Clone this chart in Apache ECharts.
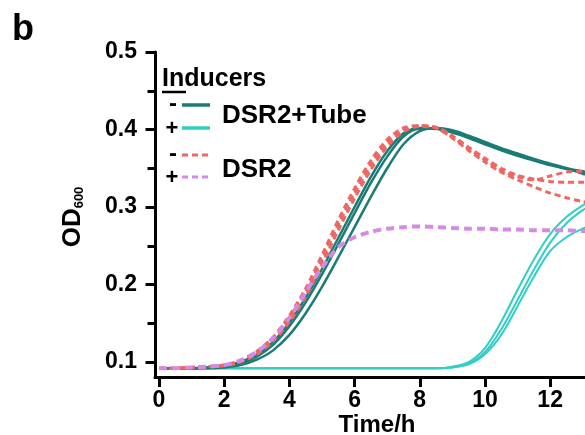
<!DOCTYPE html>
<html>
<head>
<meta charset="utf-8">
<script src="https://cdn.jsdelivr.net/npm/echarts@6/dist/echarts.min.js"></script>
<style>
html,body{margin:0;padding:0;background:#fff;}
#c{width:585px;height:435px;}
</style>
</head>
<body>
<div id="c"></div>
<script>
// Time points (hours)
var time = [0,0.5,1,1.5,2,2.5,3,3.5,4,4.5,5,5.5,6,6.5,7,7.5,8,8.5,9,9.5,10,10.5,11,11.5,12,12.5,13,13.5,14];

// DSR2+Tube, no inducer (dark teal, solid)
var tubeMinus1 = [0.092,0.092,0.092,0.093,0.095,0.100,0.110,0.126,0.151,0.183,0.220,0.260,0.300,0.339,0.372,0.395,0.402,0.401,0.396,0.389,0.381,0.373,0.366,0.360,0.354,0.349,0.345,0.342,0.339];
var tubeMinus2 = [0.092,0.092,0.092,0.093,0.094,0.098,0.107,0.122,0.146,0.177,0.213,0.252,0.292,0.331,0.365,0.391,0.401,0.401,0.397,0.390,0.382,0.374,0.367,0.361,0.355,0.350,0.346,0.343,0.340];
var tubeMinus3 = [0.092,0.092,0.092,0.092,0.093,0.096,0.103,0.115,0.135,0.163,0.197,0.235,0.274,0.313,0.350,0.381,0.398,0.402,0.399,0.392,0.384,0.376,0.369,0.362,0.356,0.350,0.343,0.338,0.336];

// DSR2+Tube, with inducer (cyan, solid)
var tubePlus1 = [0.092,0.092,0.092,0.092,0.092,0.092,0.092,0.092,0.092,0.092,0.092,0.092,0.092,0.092,0.092,0.092,0.092,0.092,0.094,0.100,0.118,0.152,0.193,0.232,0.265,0.287,0.302,0.314,0.322];
var tubePlus2 = [0.092,0.092,0.092,0.092,0.092,0.092,0.092,0.092,0.092,0.092,0.092,0.092,0.092,0.092,0.092,0.092,0.092,0.092,0.093,0.098,0.113,0.142,0.180,0.219,0.254,0.279,0.296,0.308,0.316];
var tubePlus3 = [0.092,0.092,0.092,0.092,0.092,0.092,0.092,0.092,0.092,0.092,0.092,0.092,0.092,0.092,0.092,0.092,0.092,0.092,0.093,0.097,0.110,0.135,0.172,0.210,0.243,0.261,0.272,0.280,0.286];

// DSR2, no inducer (red, dashed)
var dsrMinus1 = [0.092,0.092,0.093,0.094,0.096,0.102,0.114,0.132,0.160,0.195,0.238,0.283,0.324,0.360,0.387,0.402,0.405,0.402,0.390,0.375,0.361,0.347,0.339,0.335,0.340,0.345,0.346,0.346,0.346];
var dsrMinus2 = [0.092,0.092,0.093,0.094,0.096,0.101,0.112,0.130,0.156,0.190,0.232,0.277,0.318,0.354,0.383,0.400,0.405,0.403,0.392,0.377,0.363,0.350,0.341,0.336,0.333,0.332,0.332,0.333,0.333];
var dsrMinus3 = [0.092,0.092,0.093,0.094,0.095,0.100,0.110,0.127,0.152,0.185,0.226,0.270,0.311,0.348,0.378,0.397,0.404,0.402,0.389,0.373,0.358,0.345,0.335,0.326,0.318,0.312,0.307,0.303,0.300];

// DSR2, with inducer (violet, dashed)
var dsrPlus = [0.092,0.092,0.093,0.094,0.096,0.102,0.113,0.131,0.157,0.190,0.222,0.248,0.261,0.268,0.272,0.274,0.275,0.274,0.273,0.272,0.272,0.271,0.271,0.270,0.270,0.270,0.269,0.269,0.269];

// Axis ticks
var xTicks = [0,2,4,6,8,10,12];
var yTicks = [0.1,0.2,0.3,0.4,0.5];
var yMinorTicks = [0.15,0.25,0.35,0.45];

var FONT = 'Liberation Sans, Arial, Helvetica, sans-serif';
var TEAL = '#1a7c75', CYAN = '#30cfc6', RED = '#ee6763', VIOLET = '#d48ae6';

function pairs(arr){ return time.map(function(t,i){ return [t, arr[i]]; }); }

function line(name, arr, color, width, dash, z){
  return {
    name: name, type: 'line', data: pairs(arr), showSymbol: false, symbol: 'none',
    smooth: 0.3, clip: true, z: z,
    lineStyle: { color: color, width: width, type: dash || 'solid', cap: 'butt' },
    emphasis: { disabled: true }, silent: true
  };
}

var chart = echarts.init(document.getElementById('c'), null, { renderer: 'canvas' });

chart.setOption({
  animation: false,
  backgroundColor: '#fff',
  grid: { left: 155, top: 52, right: 0, bottom: 57.5, containLabel: false },
  xAxis: [{
    type: 'value', min: -0.123, max: 13.07,
    axisLine: { show: true, onZero: false, lineStyle: { color: '#000', width: 3 } },
    splitLine: { show: false },
    axisTick: { show: true, length: 9.5, lineStyle: { color: '#000', width: 3 }, customValues: xTicks },
    axisLabel: { show: true, customValues: xTicks, margin: 12, color: '#000', fontSize: 23, fontWeight: 'bold', fontFamily: FONT, formatter: function(v){ return String(v); } }
  }],
  yAxis: [{
    type: 'value', min: 0.08, max: 0.5,
    axisLine: { show: true, onZero: false, lineStyle: { color: '#000', width: 3 } },
    splitLine: { show: false },
    axisTick: { show: true, length: 9.5, lineStyle: { color: '#000', width: 3 }, customValues: yTicks },
    axisLabel: { show: true, customValues: yTicks, margin: 18, color: '#000', fontSize: 23, fontWeight: 'bold', fontFamily: FONT, formatter: function(v){ return v.toFixed(1); } }
  }, {
    type: 'value', min: 0.08, max: 0.5, position: 'left', offset: 0,
    axisLine: { show: true, onZero: false, lineStyle: { color: '#000', width: 3, opacity: 0 } },
    splitLine: { show: false },
    axisTick: { show: true, length: 7.5, lineStyle: { color: '#000', width: 3 }, customValues: yMinorTicks },
    axisLabel: { show: false }
  }],
  series: [
    line('DSR2+Tube +1', tubePlus1, CYAN, 2, null, 2),
    line('DSR2+Tube +2', tubePlus2, CYAN, 2, null, 2),
    line('DSR2+Tube +3', tubePlus3, CYAN, 2, null, 2),
    line('DSR2+Tube -1', tubeMinus1, TEAL, 2.5, null, 3),
    line('DSR2+Tube -2', tubeMinus2, TEAL, 2.5, null, 3),
    line('DSR2+Tube -3', tubeMinus3, TEAL, 2.5, null, 3),
    line('DSR2 -1', dsrMinus1, RED, 3, [6,4], 4),
    line('DSR2 -2', dsrMinus2, RED, 3, [6,4], 4),
    line('DSR2 -3', dsrMinus3, RED, 3, [6,4], 4),
    line('DSR2 +', dsrPlus, VIOLET, 4, [8,5], 5)
  ],
  graphic: [
    { type: 'text', left: 12, top: 12, style: { text: 'b', font: 'bold 36px ' + FONT, fill: '#000' } },
    { type: 'text', x: 162, y: 79, style: { text: 'Inducers', font: 'bold 25px ' + FONT, fill: '#000', verticalAlign: 'middle', align: 'left' } },
    { type: 'line', shape: { x1: 162, y1: 92, x2: 186, y2: 92 }, style: { stroke: '#000', lineWidth: 2.5 } },
    { type: 'text', x: 173, y: 104, style: { text: '-', font: 'bold 24px ' + FONT, fill: '#000', align: 'center', verticalAlign: 'middle' } },
    { type: 'text', x: 172, y: 129, style: { text: '+', font: 'bold 22px ' + FONT, fill: '#000', align: 'center', verticalAlign: 'middle' } },
    { type: 'text', x: 173, y: 154, style: { text: '-', font: 'bold 24px ' + FONT, fill: '#000', align: 'center', verticalAlign: 'middle' } },
    { type: 'text', x: 172, y: 178, style: { text: '+', font: 'bold 22px ' + FONT, fill: '#000', align: 'center', verticalAlign: 'middle' } },
    { type: 'line', shape: { x1: 182, y1: 105, x2: 210, y2: 105 }, style: { stroke: TEAL, lineWidth: 3.5 } },
    { type: 'line', shape: { x1: 182, y1: 128, x2: 210, y2: 128 }, style: { stroke: CYAN, lineWidth: 3.5 } },
    { type: 'line', shape: { x1: 182, y1: 155, x2: 212, y2: 155 }, style: { stroke: RED, lineWidth: 3, lineDash: [6,4] } },
    { type: 'line', shape: { x1: 182, y1: 177, x2: 212, y2: 177 }, style: { stroke: VIOLET, lineWidth: 3, lineDash: [6,4] } },
    { type: 'text', x: 222, y: 116, style: { text: 'DSR2+Tube', font: 'bold 26px ' + FONT, fill: '#000', verticalAlign: 'middle' } },
    { type: 'text', x: 222, y: 170, style: { text: 'DSR2', font: 'bold 26px ' + FONT, fill: '#000', verticalAlign: 'middle' } },
    { type: 'text', x: 377, y: 425, style: { text: 'Time/h', font: 'bold 24px ' + FONT, fill: '#000', align: 'center', verticalAlign: 'middle' } },
    { type: 'text', x: 73, y: 217, rotation: Math.PI / 2,
      style: { text: '{od|OD}{sub|600}', align: 'center', verticalAlign: 'middle', fill: '#000',
        rich: { od: { font: 'bold 26px ' + FONT, fill: '#000' }, sub: { font: 'bold 13px ' + FONT, fill: '#000', verticalAlign: 'bottom' } } } }
  ]
});
</script>
</body>
</html>
